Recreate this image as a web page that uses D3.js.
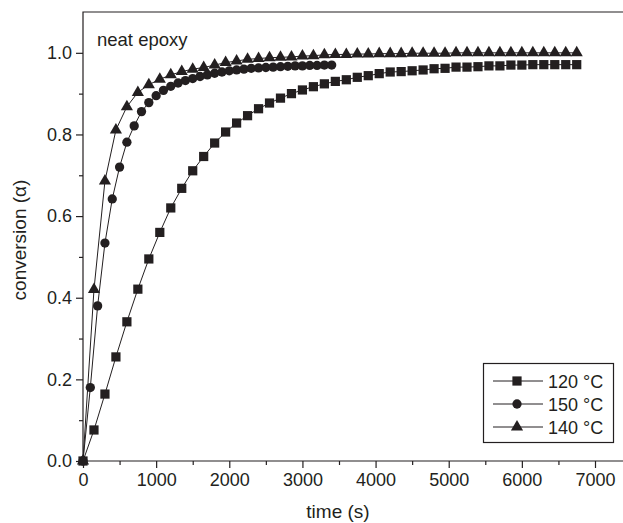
<html>
<script src='https://d3js.org/d3.v7.min.js'></script>
<style>
body {margin:0; background:#fff;}
text {font-family: 'Liberation Sans', Arial, sans-serif; fill:#231f20;}
.axis path, .axis line {stroke:#231f20; stroke-width:1.2;}
</style>
<body onload='init()'>
<svg width=623 height=523></svg>
<script>
// time (s)
var t150 = d3.range(0, 6751, 150);
var t100 = d3.range(0, 3401, 100);

var conv120 = [0, 0.076, 0.164, 0.255, 0.341, 0.421, 0.495, 0.56, 0.62, 0.668, 0.711, 0.746, 0.779,
  0.806, 0.828, 0.846, 0.863, 0.877, 0.889, 0.9, 0.909, 0.917, 0.924, 0.93, 0.934, 0.94, 0.944,
  0.949, 0.953, 0.954, 0.956, 0.958, 0.961, 0.962, 0.965, 0.965, 0.966, 0.968, 0.968, 0.97, 0.97,
  0.971, 0.971, 0.971, 0.971, 0.971];
var conv150 = [0, 0.18, 0.38, 0.534, 0.642, 0.72, 0.781, 0.821, 0.856, 0.878, 0.895, 0.908, 0.918,
  0.926, 0.932, 0.937, 0.942, 0.946, 0.95, 0.953, 0.956, 0.958, 0.96, 0.962, 0.963, 0.964, 0.965,
  0.966, 0.967, 0.968, 0.968, 0.969, 0.969, 0.97, 0.97];
var conv140 = [0, 0.42, 0.686, 0.811, 0.868, 0.903, 0.922, 0.935, 0.946, 0.954, 0.96, 0.964, 0.97,
  0.976, 0.98, 0.984, 0.986, 0.988, 0.989, 0.99, 0.992, 0.993, 0.995, 0.996, 0.996, 0.997, 0.997,
  0.998, 0.998, 0.998, 0.999, 0.999, 0.999, 0.999, 1.0, 1.0, 1.0, 1.0, 1.0, 1.0, 1.0, 1.0, 1.0, 1.0,
  1.0, 1.0];

var xTicks = [0, 1000, 2000, 3000, 4000, 5000, 6000, 7000];
var yTicks = [0, 0.2, 0.4, 0.6, 0.8, 1.0];

var series = [
  {name: '120 °C', sym: d3.symbolSquare, size: 85, t: t150, v: conv120},
  {name: '150 °C', sym: d3.symbolCircle, size: 68, t: t100, v: conv150},
  {name: '140 °C', sym: d3.symbolTriangle, size: 64, t: t150, v: conv140}
];

function init() {
  var ink = '#231f20';
  var svg = d3.select('svg');
  var left = 83, bottom = 461, top = 12, right = 623;

  var xs = d3.scaleLinear().domain([0, 7000]).range([left, 595]);
  var ys = d3.scaleLinear().domain([0, 1.1]).range([bottom, top]);

  // frame lines: left, bottom, top
  svg.append('path')
    .attr('d', 'M' + right + ',' + top + 'H' + left + 'V' + bottom + 'H' + right)
    .attr('fill', 'none').attr('stroke', ink).attr('stroke-width', 1.2);

  // x axis
  var gx = svg.append('g').attr('class', 'axis').attr('transform', 'translate(0,' + bottom + ')')
    .call(d3.axisBottom(xs).tickValues(xTicks).tickSize(7).tickPadding(5).tickFormat(d3.format('d')));
  gx.select('.domain').remove();
  gx.selectAll('text').style('font-size', '18px');
  svg.append('g').attr('class', 'axis').attr('transform', 'translate(0,' + bottom + ')')
    .call(d3.axisBottom(xs).tickValues(d3.range(500, 7600, 1000)).tickSize(4).tickFormat(''))
    .select('.domain').remove();

  // y axis
  var gy = svg.append('g').attr('class', 'axis').attr('transform', 'translate(' + left + ',0)')
    .call(d3.axisLeft(ys).tickValues(yTicks).tickSize(7).tickPadding(4).tickFormat(d3.format('.1f')));
  gy.select('.domain').remove();
  gy.selectAll('text').style('font-size', '18px');
  svg.append('g').attr('class', 'axis').attr('transform', 'translate(' + left + ',0)')
    .call(d3.axisLeft(ys).tickValues([0.1, 0.3, 0.5, 0.7, 0.9]).tickSize(4).tickFormat(''))
    .select('.domain').remove();

  // titles
  svg.append('text').attr('x', 338).attr('y', 518).attr('text-anchor', 'middle')
    .style('font-size', '19px').text('time (s)');
  svg.append('text').attr('transform', 'translate(26,240) rotate(-90)').attr('text-anchor', 'middle')
    .style('font-size', '19px').text('conversion (α)');
  svg.append('text').attr('x', 97).attr('y', 46).style('font-size', '18.5px').text('neat epoxy');

  // series
  var line = d3.line().x(function(d) {return xs(d[0]);}).y(function(d) {return ys(d[1]);});
  series.forEach(function(s) {
    var pts = s.t.map(function(t, i) {return [t, s.v[i]];});
    svg.append('path').datum(pts).attr('d', line)
      .attr('fill', 'none').attr('stroke', ink).attr('stroke-width', 1);
    svg.append('g').selectAll('path').data(pts).enter().append('path')
      .attr('d', d3.symbol().type(s.sym).size(s.size))
      .attr('transform', function(d) {return 'translate(' + xs(d[0]) + ',' + ys(d[1]) + ')';})
      .attr('fill', ink);
  });

  // legend
  var lg = svg.append('g');
  lg.append('rect').attr('x', 483.5).attr('y', 363.5).attr('width', 130).attr('height', 79)
    .attr('fill', '#fff').attr('stroke', ink).attr('stroke-width', 1.2);
  series.forEach(function(s, i) {
    var yy = 381 + i * 23;
    lg.append('line').attr('x1', 493).attr('x2', 543).attr('y1', yy).attr('y2', yy)
      .attr('stroke', ink).attr('stroke-width', 1);
    lg.append('path').attr('d', d3.symbol().type(s.sym).size(s.size))
      .attr('transform', 'translate(517,' + yy + ')').attr('fill', ink);
    lg.append('text').attr('x', 548).attr('y', yy + 6.5).style('font-size', '18px').text(s.name);
  });
}
</script>
</body>
</html>
